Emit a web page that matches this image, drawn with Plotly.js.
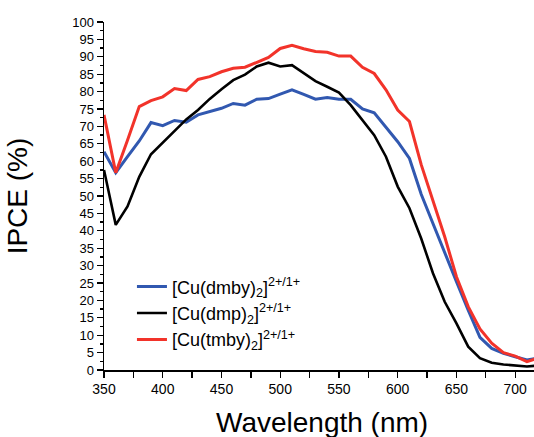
<!DOCTYPE html>
<html>
<head>
<meta charset="utf-8">
<script src="https://cdn.plot.ly/plotly-3.0.1.min.js"></script>
<style>html,body{margin:0;padding:0;background:#fff;}#chart{width:534px;height:437px;}</style>
</head>
<body>
<div id="chart"></div>
<script>
const wavelength = [350,360,370,380,390,400,410,420,430,440,450,460,470,480,490,500,510,520,530,540,550,560,570,580,590,600,610,620,630,640,650,660,670,680,690,700,710,720];
const ipceDmby = [62.7,56.7,61.3,65.8,71.1,70.2,71.7,71.2,73.3,74.2,75.2,76.6,76.1,77.8,78.0,79.3,80.5,79.2,77.8,78.3,77.8,77.8,75.0,73.9,69.9,65.6,60.8,50.5,42.1,34.0,25.4,17.2,9.4,6.2,4.8,3.8,2.9,3.5];
const ipceDmp = [57.5,41.7,47.0,55.5,62.0,65.3,68.7,72.0,74.7,77.9,80.7,83.3,84.9,87.2,88.3,87.2,87.6,85.2,83.0,81.4,79.7,76.1,71.8,67.5,61.3,52.7,46.5,37.8,27.8,19.6,13.4,6.7,3.4,2.1,1.6,1.3,1.0,1.3];
const ipceTmby = [73.3,56.7,66.0,75.7,77.4,78.5,80.9,80.3,83.5,84.3,85.7,86.7,87.0,88.4,89.8,92.4,93.3,92.3,91.5,91.3,90.2,90.2,87.0,85.2,80.5,74.7,71.4,59.0,48.9,38.3,26.8,18.2,11.8,7.7,5.0,4.0,2.4,3.5];
const seriesNames = ['[Cu(dmby)<sub>2</sub>]<sup>2+/1+</sup>','[Cu(dmp)<sub>2</sub>]<sup>2+/1+</sup>','[Cu(tmby)<sub>2</sub>]<sup>2+/1+</sup>'];
const seriesColors = ['#3158b0','#000000','#f2332a'];
const xTitle = 'Wavelength (nm)';
const yTitle = 'IPCE (%)';

const font = 'Arial, "Liberation Sans", sans-serif';
const ys = [ipceDmby, ipceDmp, ipceTmby];
const widths = [3, 2.6, 3];
const traces = ys.map((y,i)=>({
  x: wavelength, y: y, type: 'scatter', mode: 'lines', name: seriesNames[i],
  line: {color: seriesColors[i], width: widths[i]}
}));

const layout = {
  width: 534, height: 437,
  margin: {l:104, r:0, t:22, b:67, pad:0},
  paper_bgcolor: '#fff', plot_bgcolor: '#fff',
  font: {family: font, color: '#000'},
  showlegend: true,
  legend: {x:0.065, y:0.292, xanchor:'left', yanchor:'top', bgcolor:'rgba(0,0,0,0)', font:{size:18, family:font}, tracegroupgap:0},
  xaxis: {
    range:[350,716], tick0:350, dtick:50, ticks:'outside', ticklen:6, tickwidth:1.3, tickcolor:'#000',
    minor:{dtick:25, ticks:'outside', ticklen:6, tickwidth:1.3, tickcolor:'#000'},
    showline:true, linewidth:1.5, linecolor:'#000', showgrid:false, zeroline:false,
    tickfont:{size:14, family:font}
  },
  yaxis: {
    range:[0,100], tick0:0, dtick:5, ticks:'outside', ticklen:6, tickwidth:1.3, tickcolor:'#000',
    minor:{dtick:2.5, ticks:'outside', ticklen:3, tickwidth:1.3, tickcolor:'#000'},
    showline:true, linewidth:1.5, linecolor:'#000', showgrid:false, zeroline:false,
    tickfont:{size:13, family:font},
    title:{text:yTitle, font:{size:28, family:font}, standoff:36}
  },
  annotations: [{
    text: xTitle, xref:'paper', yref:'paper', x:0.506, y:-0.152, xanchor:'center', yanchor:'middle',
    showarrow:false, font:{size:28, family:font, color:'#000'}
  }]
};
Plotly.newPlot('chart', traces, layout, {staticPlot:true, displayModeBar:false});
</script>
</body>
</html>
